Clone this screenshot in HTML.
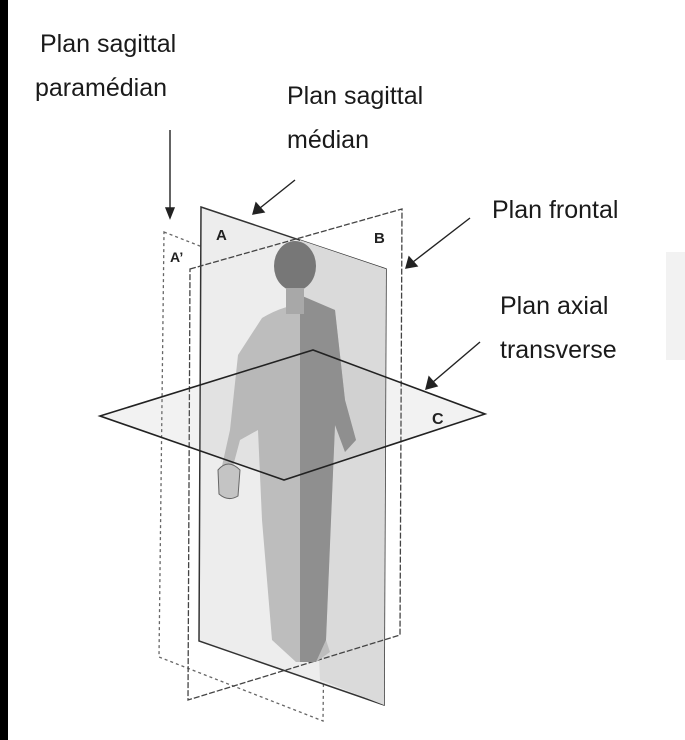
<!DOCTYPE html>
<html><head><meta charset="utf-8"><style>
html,body{margin:0;padding:0;background:#fff;}
#wrap{position:relative;width:685px;height:740px;overflow:hidden;background:#fff;}
.lbl{position:absolute;font-family:"Liberation Sans",sans-serif;font-size:25px;color:#1a1a1a;white-space:nowrap;line-height:1;}
</style></head><body>
<div id="wrap">
<div style="position:absolute;left:0;top:0;width:8px;height:740px;background:#000"></div>
<div style="position:absolute;left:666px;top:252px;width:19px;height:108px;background:#f2f2f2"></div>
<svg width="685" height="740" style="position:absolute;left:0;top:0">
  <polygon points="164,232 328,296 323,721 159,657" fill="none" stroke="#666" stroke-width="1.3" stroke-dasharray="3,3"/>
  <polygon points="201,207 386,269 384,705 199,641" fill="#ededed" stroke="#333" stroke-width="1.5"/>
  <polygon points="300,240 386,269 384,705 320,680" fill="#dadada"/>
  <polygon points="190,269 402,209 400,635 188,700" fill="none" stroke="#444" stroke-width="1.3" stroke-dasharray="6,2"/>
  <g>
    <path d="M262,318 Q300,295 335,310 L345,400 L356,440 L345,452 L335,425 L330,540 L326,640 L330,652 L316,662 L296,662 L272,640 L262,520 L258,430 L240,440 L232,470 L222,466 L230,430 L238,355 Z" fill="#bdbdbd"/>
    <path d="M300,295 L335,310 L345,400 L356,440 L345,452 L335,425 L326,640 L316,662 L300,662 Z" fill="#8f8f8f"/>
    <ellipse cx="295" cy="266" rx="21" ry="25" fill="#777"/>
    <rect x="286" y="288" width="18" height="26" fill="#a8a8a8"/>
    <path d="M218,470 Q228,458 240,470 L238,496 Q228,502 219,494 Z" fill="#c4c4c4" stroke="#666" stroke-width="1"/>
  </g>
  <polygon points="100,416 313,350 485,414 284,480" fill="rgba(150,150,150,0.12)" stroke="#222" stroke-width="1.6"/>
  <text x="216" y="240" font-family="Liberation Sans,sans-serif" font-size="15" font-weight="bold" fill="#222">A</text>
  <text x="374" y="243" font-family="Liberation Sans,sans-serif" font-size="15" font-weight="bold" fill="#222">B</text>
  <text x="170" y="262" font-family="Liberation Sans,sans-serif" font-size="14" font-weight="bold" fill="#222">A’</text>
  <text x="432" y="424" font-family="Liberation Sans,sans-serif" font-size="16" font-weight="bold" fill="#222">C</text>
  <g stroke="#222" stroke-width="1.4" fill="#222">
    <line x1="170" y1="130" x2="170" y2="210"/><polygon points="166,208 174,208 170,218"/>
    <line x1="295" y1="180" x2="260" y2="208"/><polygon points="256,203 264,212 253,214"/>
    <line x1="470" y1="218" x2="413" y2="262"/><polygon points="409,257 417,266 406,268"/>
    <line x1="480" y1="342" x2="433" y2="382"/><polygon points="429,377 437,386 426,389"/>
  </g>
</svg>
<div class="lbl" style="left:40px;top:32px">Plan sagittal</div>
<div class="lbl" style="left:35px;top:76px">paramédian</div>
<div class="lbl" style="left:287px;top:84px">Plan sagittal</div>
<div class="lbl" style="left:287px;top:128px">médian</div>
<div class="lbl" style="left:492px;top:198px">Plan frontal</div>
<div class="lbl" style="left:500px;top:294px">Plan axial</div>
<div class="lbl" style="left:500px;top:338px">transverse</div>
</div>
</body></html>
